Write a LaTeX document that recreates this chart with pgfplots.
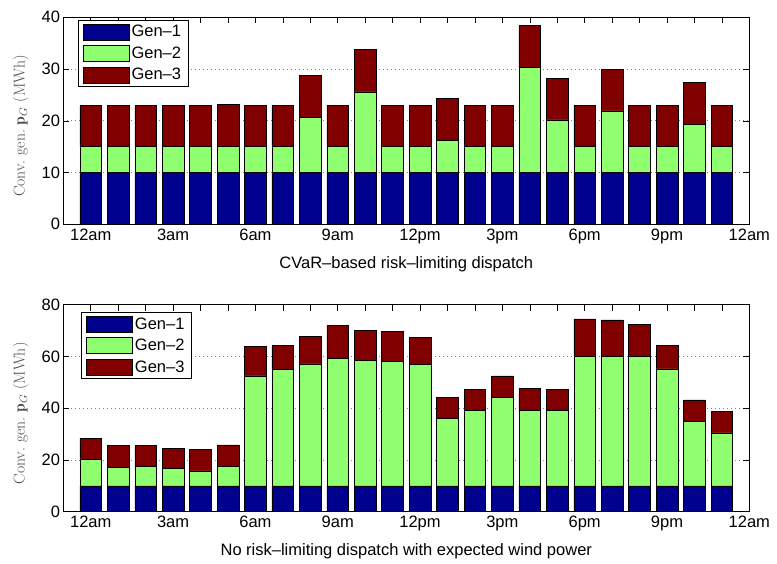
\documentclass[border=0pt]{standalone}
\usepackage{fontspec}
\usepackage{pgfplots}
\usepackage{pgfplotstable}
\pgfplotsset{compat=1.18}
\newfontfamily\arial{Liberation Sans}

\definecolor{genone}{rgb}{0,0,0.5625}
\definecolor{gentwo}{rgb}{0.5625,1,0.4375}
\definecolor{genthree}{rgb}{0.5,0,0}

% hour, Gen-1, Gen-2, Gen-3 (MWh)
\pgfplotstableread{
h g1 g2 g3
1 10 5.0 8.0
2 10 5.0 8.0
3 10 5.0 8.0
4 10 5.0 8.0
5 10 5.0 8.0
6 10 5.1 8.1
7 10 5.0 8.0
8 10 5.0 8.0
9 10 10.7 8.1
10 10 5.0 8.0
11 10 15.6 8.2
12 10 5.0 8.0
13 10 5.0 8.0
14 10 6.2 8.1
15 10 5.0 8.0
16 10 5.0 8.0
17 10 20.3 8.1
18 10 10.2 8.0
19 10 5.0 8.0
20 10 11.9 8.0
21 10 5.0 8.0
22 10 5.0 8.0
23 10 9.3 8.1
24 10 5.0 8.0
}\cvar

\pgfplotstableread{
h g1 g2 g3
1 10 10.2 8.1
2 10 7.1 8.4
3 10 7.4 8.2
4 10 6.6 8.0
5 10 5.8 8.3
6 10 7.5 8.3
7 10 42.5 11.4
8 10 45.0 9.3
9 10 47.1 10.6
10 10 49.4 12.5
11 10 48.4 11.8
12 10 48.1 11.5
13 10 46.9 10.4
14 10 26.0 8.1
15 10 29.1 8.1
16 10 34.2 8.3
17 10 29.3 8.3
18 10 29.1 8.1
19 10 50.0 14.5
20 10 50.0 14.1
21 10 50.0 12.3
22 10 45.2 9.1
23 10 25.0 8.2
24 10 20.5 8.2
}\norisk

\pgfplotsset{
  panel/.style={
    scale only axis,
    width=686pt, height=207pt,
    anchor=south west,
    ybar stacked, bar width=0.79,
    xmin=0, xmax=25, ymin=0,
    xtick={1,...,25},
    xticklabels={12am,,,3am,,,6am,,,9am,,,12pm,,,3pm,,,6pm,,,9pm,,,12am},
    tick align=inside, major tick length=6pt,
    tick style={black, line width=0.5pt},
    axis line style={black, line width=0.7pt},
    ymajorgrids,
    grid style={gray, line width=0.6pt, dash pattern=on 0.7pt off 3.3pt},
    /pgf/number format/assume math mode=true,
    tick label style={font=\arial\fontsize{16.5}{18}\selectfont},
    yticklabel style={inner sep=3pt},
    xticklabel style={inner sep=2pt, yshift=-2pt},
    xlabel style={at={(axis description cs:0.5,0)}, anchor=center, yshift=-40pt,
      font=\arial\fontsize{16.5}{18}\selectfont},
    ylabel style={at={(axis description cs:-0.062,0.475)}, anchor=center,
      font=\fontsize{15.7}{18}\selectfont, text=black!70},
    ylabel={Conv.\ gen.\ $\mathbf{p}_G$ (MWh)},
    legend cell align=left,
    legend image code/.code={\draw[#1, line width=0.5pt] (0pt,-8pt) rectangle (46pt,8pt);},
    legend style={draw=black, line width=0.6pt, fill=white,
      font=\arial\fontsize{16.5}{18}\selectfont,
      inner xsep=5pt, inner ysep=3pt, row sep=4.5pt,
      /tikz/every even column/.append style={column sep=3pt}},
    every axis plot/.append style={draw=black, line width=0.5pt},
  }
}

\begin{document}
\begin{tikzpicture}
\useasboundingbox (0,0) rectangle (777pt,563pt);

\begin{axis}[panel, at={(63.3pt,338.7pt)}, ymax=40, ytick={0,10,...,40},
  xlabel={CVaR\textendash based risk\textendash limiting dispatch},
  legend style={at={(0.021,0.987)}, anchor=north west}]
  \addplot[fill=genone] table[x=h, y=g1] {\cvar};
  \addplot[fill=gentwo] table[x=h, y=g2] {\cvar};
  \addplot[fill=genthree] table[x=h, y=g3] {\cvar};
  \legend{Gen\textendash1, Gen\textendash2, Gen\textendash3}
\end{axis}

\begin{axis}[panel, at={(63.3pt,51.3pt)}, ymax=80, ytick={0,20,...,80},
  xlabel={No risk\textendash limiting dispatch with expected wind power},
  legend style={at={(0.026,0.963)}, anchor=north west}]
  \addplot[fill=genone] table[x=h, y=g1] {\norisk};
  \addplot[fill=gentwo] table[x=h, y=g2] {\norisk};
  \addplot[fill=genthree] table[x=h, y=g3] {\norisk};
  \legend{Gen\textendash1, Gen\textendash2, Gen\textendash3}
\end{axis}
\end{tikzpicture}
\end{document}
